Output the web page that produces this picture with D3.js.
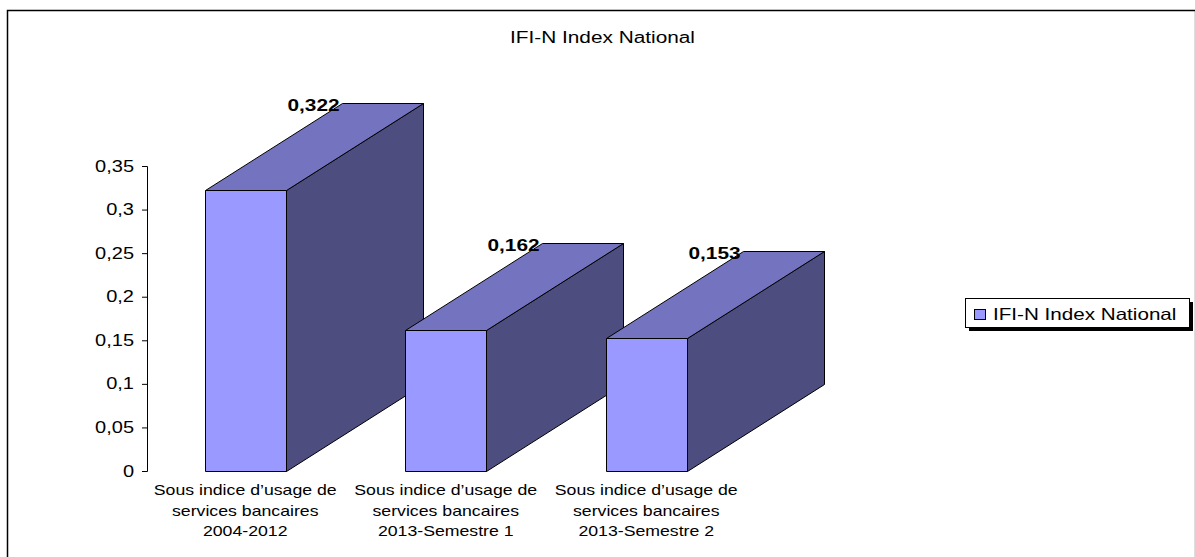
<!DOCTYPE html>
<html><head><meta charset="utf-8">
<script src="https://cdn.jsdelivr.net/npm/d3@7/dist/d3.min.js"></script>
<style>html,body{margin:0;padding:0;background:#fff}svg{display:block}text{font-family:"Liberation Sans",Arial,sans-serif;fill:#000}</style>
</head><body><svg id="c" width="1195" height="557"></svg>
<script>
const categoryLines = [
  ["Sous indice d’usage de","services bancaires","2004-2012"],
  ["Sous indice d’usage de","services bancaires","2013-Semestre 1"],
  ["Sous indice d’usage de","services bancaires","2013-Semestre 2"]
];
const values = [0.322, 0.162, 0.153];
const valueLabels = ["0,322", "0,162", "0,153"];
const tickValues = [0, 0.05, 0.1, 0.15, 0.2, 0.25, 0.3, 0.35];
const tickLabels = ["0", "0,05", "0,1", "0,15", "0,2", "0,25", "0,3", "0,35"];
const chartTitle = "IFI-N Index National";
const seriesName = "IFI-N Index National";

const svg = d3.select("#c");
const y = d3.scaleLinear().domain([0, 0.35]).range([471, 166]);
const x = d3.scaleBand().domain(d3.range(values.length)).range([145, 746.5]).paddingInner(0.596).paddingOuter(0.298);
const depthX = 137, depthY = 87;
// The reference's text is horizontally stretched
const stretch = (sel, f) => sel.each(function(){
  this.setAttribute("lengthAdjust","spacingAndGlyphs");
  this.setAttribute("textLength", this.getComputedTextLength()*f);
});

svg.append("path").attr("d","M1194.5,10.5V557").attr("fill","none").attr("stroke","#ddd");
svg.append("path").attr("d","M7.5,557V10.5H1195").attr("fill","none").attr("stroke","#000").attr("stroke-width",1.5);

svg.append("text").attr("x",602.5).attr("y",42.5).attr("text-anchor","middle").style("font-size","16px").text(chartTitle).call(stretch,1.3);

const axis = d3.axisLeft(y).tickValues(tickValues).tickFormat((d,i)=>tickLabels[i]).tickSize(5).tickPadding(8);
const ag = svg.append("g").attr("transform","translate(147,0)").call(axis);
ag.selectAll("path,line").attr("stroke","#000");
ag.selectAll("text").style("font-size","16px").attr("fill","#000").style("font-family",'"Liberation Sans",Arial,sans-serif').call(stretch,1.25);

const bars = svg.selectAll("g.bar").data(values).join("g").attr("class","bar");
const st = s => s.attr("stroke","#000").attr("stroke-width",1).attr("stroke-linejoin","round");
bars.each(function(d,i){
  const g = d3.select(this);
  const l = Math.round(x(i))+0.5, r = l + Math.round(x.bandwidth()), t = Math.round(y(d))+0.5, b = y(0)+0.5;
  st(g.append("path").attr("d",d3.line()([[r,t],[r+depthX,t-depthY],[r+depthX,b-depthY],[r,b]])+"Z").attr("fill","#4d4d7f"));
  st(g.append("path").attr("d",d3.line()([[l,t],[l+depthX,t-depthY],[r+depthX,t-depthY],[r,t]])+"Z").attr("fill","#7373bf"));
  st(g.append("rect").attr("x",l).attr("y",t).attr("width",r-l).attr("height",b-t).attr("fill","#9999ff"));
  g.append("text").attr("x",l+108).attr("y",t-depthY+7).attr("text-anchor","middle").style("font-size","16px").style("font-weight","bold").text(valueLabels[i]).call(stretch,1.3);
  categoryLines[i].forEach((s,k)=>{
    g.append("text").attr("text-anchor","middle").style("font-size","14.5px")
      .attr("x",x(i)+x.bandwidth()/2).attr("y",495+k*20.5).text(s).call(stretch,1.22);
  });
});

const lg = svg.append("g");
lg.append("rect").attr("x",969).attr("y",302).attr("width",224).attr("height",29).attr("fill","#000");
lg.append("rect").attr("x",965.5).attr("y",298.5).attr("width",224).attr("height",29).attr("fill","#fff").attr("stroke","#000");
lg.append("rect").attr("x",974.5).attr("y",309.5).attr("width",11).attr("height",10).attr("fill","#9999ff").attr("stroke","#000");
lg.append("text").attr("x",993).attr("y",320).style("font-size","16.5px").text(seriesName).call(stretch,1.25);
</script></body></html>
